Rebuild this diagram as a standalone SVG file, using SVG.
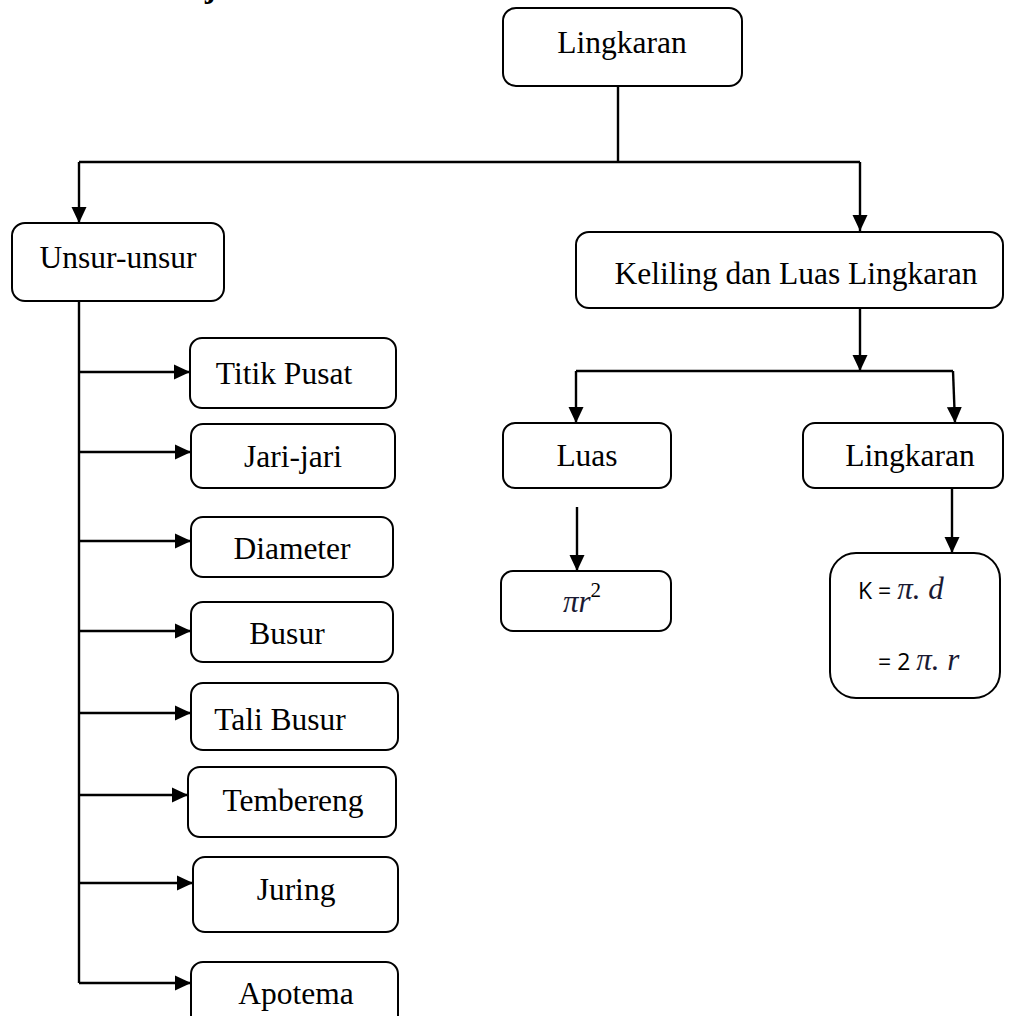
<svg xmlns="http://www.w3.org/2000/svg" width="1010" height="1016" viewBox="0 0 1010 1016">
<style>
.box{fill:#fff;stroke:#000;stroke-width:2}
.t{font-family:"Liberation Serif","Times New Roman",serif;font-size:31.5px;fill:#000;text-anchor:middle}
.m{font-family:"Liberation Serif","Times New Roman",serif;font-style:italic;font-size:31px;fill:#1a1a33}
.s{font-family:"Open Sans","Liberation Sans",sans-serif;font-size:23px;fill:#000}
.c{fill:none;stroke:#000;stroke-width:2.4}
</style>
<defs>
<marker id="ah" markerUnits="userSpaceOnUse" markerWidth="17" markerHeight="17" viewBox="0 0 17 17" refX="16" refY="8.5" orient="auto">
<path d="M0,1 L16,8.5 L0,16 Z" fill="#000"/>
</marker>
</defs>
<rect width="1010" height="1016" fill="#fff"/>
<text x="205" y="-3" style="font-family:'Liberation Serif',serif;font-weight:bold;font-size:32px">j</text>
<g id="connectors">
<path class="c" d="M618,86 V162"/>
<path class="c" d="M79,162 H860"/>
<path class="c" d="M79,162 V223" marker-end="url(#ah)"/>
<path class="c" d="M860,162 V231" marker-end="url(#ah)"/>
<path class="c" d="M860,308 V371" marker-end="url(#ah)"/>
<path class="c" d="M576,371 H953"/>
<path class="c" d="M576,371 V423" marker-end="url(#ah)"/>
<path class="c" d="M953,371 L955,423" marker-end="url(#ah)"/>
<path class="c" d="M577,507 V571" marker-end="url(#ah)"/>
<path class="c" d="M952,488 V553" marker-end="url(#ah)"/>
<path class="c" d="M79,301 V983"/>
<path class="c" d="M79,372 H190" marker-end="url(#ah)"/>
<path class="c" d="M79,452 H191" marker-end="url(#ah)"/>
<path class="c" d="M79,541 H191" marker-end="url(#ah)"/>
<path class="c" d="M79,631 H191" marker-end="url(#ah)"/>
<path class="c" d="M79,713 H191" marker-end="url(#ah)"/>
<path class="c" d="M79,795 H188" marker-end="url(#ah)"/>
<path class="c" d="M79,883 H193" marker-end="url(#ah)"/>
<path class="c" d="M79,983 H191" marker-end="url(#ah)"/>
</g>
<g id="lingkaran"><rect class="box" x="503" y="8" width="239" height="78" rx="13"/><text class="t" x="622" y="53">Lingkaran</text></g>
<g id="unsur"><rect class="box" x="12" y="223" width="212" height="78" rx="13"/><text class="t" x="118" y="268">Unsur-unsur</text></g>
<g id="keliling"><rect class="box" x="576" y="232" width="427" height="76" rx="13"/><text class="t" x="796" y="284">Keliling dan Luas Lingkaran</text></g>
<g id="luas"><rect class="box" x="503" y="423" width="168" height="65" rx="12"/><text class="t" x="587" y="466">Luas</text></g>
<g id="lingkaran2"><rect class="box" x="803" y="423" width="200" height="65" rx="12"/><text class="t" x="910" y="466">Lingkaran</text></g>
<g id="rumus-luas"><rect class="box" x="501" y="571" width="170" height="60" rx="12"/><text x="563" y="612"><tspan class="m">πr</tspan><tspan dy="-15" style="font-family:'Liberation Serif',serif;font-size:21px">2</tspan></text></g>
<g id="rumus-keliling"><rect class="box" x="830" y="553" width="170" height="145" rx="26"/>
<text x="858" y="599"><tspan class="s">K = </tspan><tspan class="m">π. d</tspan></text>
<text x="878" y="670"><tspan class="s">= 2 </tspan><tspan class="m">π. r</tspan></text></g>
<g id="titik-pusat"><rect class="box" x="190" y="338" width="206" height="70" rx="12"/><text class="t" x="284" y="384">Titik Pusat</text></g>
<g id="jari-jari"><rect class="box" x="191" y="424" width="204" height="64" rx="12"/><text class="t" x="293" y="467">Jari-jari</text></g>
<g id="diameter"><rect class="box" x="191" y="517" width="202" height="60" rx="12"/><text class="t" x="292" y="559">Diameter</text></g>
<g id="busur"><rect class="box" x="191" y="602" width="202" height="60" rx="12"/><text class="t" x="287" y="644">Busur</text></g>
<g id="tali-busur"><rect class="box" x="191" y="683" width="207" height="67" rx="12"/><text class="t" x="280" y="730">Tali Busur</text></g>
<g id="tembereng"><rect class="box" x="188" y="767" width="208" height="70" rx="12"/><text class="t" x="293" y="811">Tembereng</text></g>
<g id="juring"><rect class="box" x="193" y="857" width="205" height="75" rx="12"/><text class="t" x="296" y="900">Juring</text></g>
<g id="apotema"><rect class="box" x="191" y="962" width="207" height="70" rx="12"/><text class="t" x="296" y="1004">Apotema</text></g>
</svg>
